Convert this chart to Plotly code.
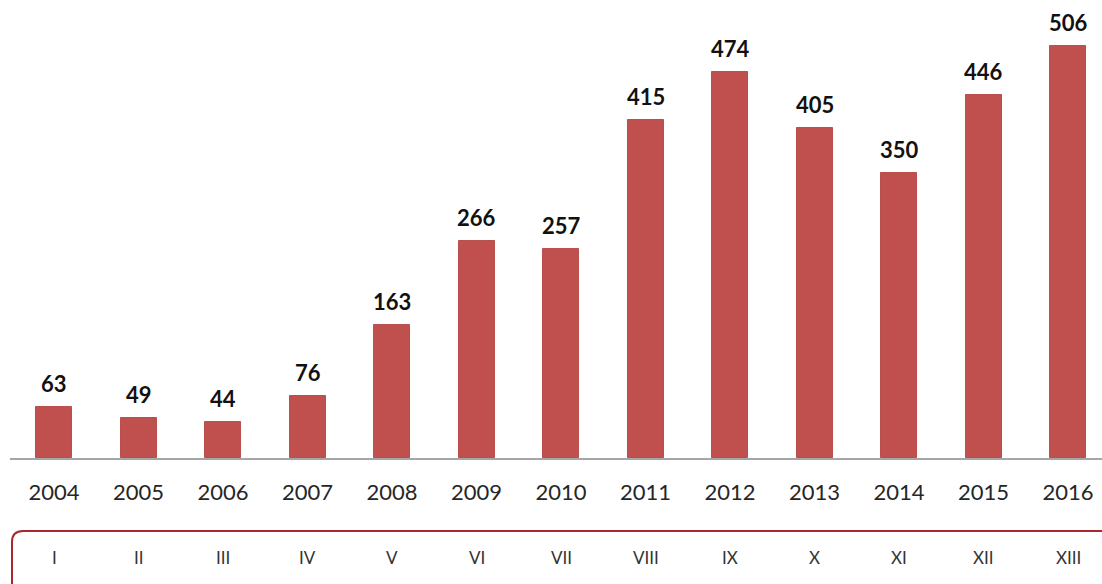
import plotly.graph_objects as go

years = ["2004", "2005", "2006", "2007", "2008", "2009", "2010",
         "2011", "2012", "2013", "2014", "2015", "2016"]
values = [63, 49, 44, 76, 163, 266, 257, 415, 474, 405, 350, 446, 506]
roman = ["I", "II", "III", "IV", "V", "VI", "VII", "VIII", "IX", "X",
         "XI", "XII", "XIII"]

W, H = 1102, 584
ML, MB = 10, 126
plot_w = W - ML
plot_h = H - MB
step = 84.5
x0 = -(54 - ML) / step
x1 = x0 + plot_w / step
ymax = plot_h / 0.814

fig = go.Figure()
fig.add_trace(go.Bar(
    x=list(range(len(years))), y=values, width=0.426,
    marker=dict(color="#C0504D", line=dict(color="#b8504d", width=1)),
    hoverinfo="skip",
))

for i, v in enumerate(values):
    fig.add_annotation(x=i, y=v, text=f"<b>{v}</b>", showarrow=False,
                       yanchor="bottom", yshift=8,
                       font=dict(family="Lato", size=22, color="#111111"))

for i, r in enumerate(roman):
    fig.add_annotation(x=i, y=(plot_h - 557) / plot_h, yref="paper", text=r,
                       showarrow=False, yanchor="middle",
                       font=dict(family="Lato", size=17, color="#333333"))

# rounded box
def px(xp):
    return (xp - ML) / plot_w
def py(yp):
    return (plot_h - yp) / plot_h
bx, by, r = 12, 531, 11
path = (f"M {px(1120)},{py(by)} L {px(bx + r)},{py(by)} "
        f"Q {px(bx)},{py(by)} {px(bx)},{py(by + r)} L {px(bx)},{py(600)}")
fig.add_shape(type="path", path=path, xref="paper", yref="paper",
              line=dict(color="#a8282e", width=2))

fig.update_layout(
    width=W, height=H,
    margin=dict(l=ML, r=0, t=0, b=MB),
    plot_bgcolor="white", paper_bgcolor="white",
    showlegend=False,
    bargap=0,
    xaxis=dict(range=[x0, x1], tickmode="array",
               tickvals=list(range(len(years))), ticktext=years,
               showgrid=False, zeroline=False, showline=True,
               linecolor="#a6a6a6", linewidth=1.5, ticks="",
               ticklabelstandoff=14,
               tickfont=dict(family="Lato", size=22, color="#262626")),
    yaxis=dict(range=[0, ymax], visible=False),
)

fig.write_html("out.html", config={"displayModeBar": False},
               post_script="document.body.style.margin='0';document.body.style.overflow='hidden';")
